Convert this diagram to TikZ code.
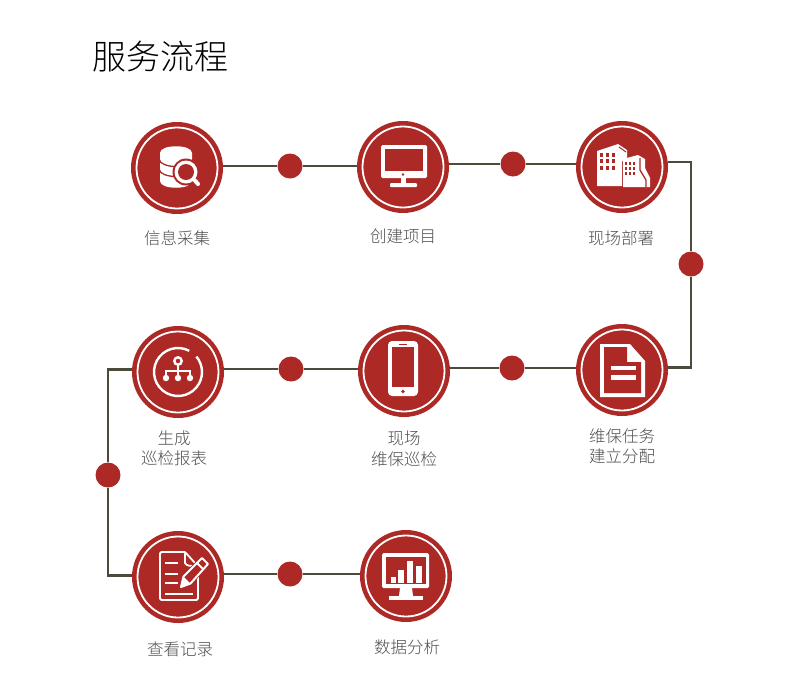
\documentclass[tikz,border=0pt]{standalone}
\usepackage{fontspec}
\setmainfont[UprightFont=* Light]{Noto Sans CJK SC}
\usetikzlibrary{positioning}
\definecolor{seal}{rgb}{0.68,0.16,0.15}
\definecolor{wire}{rgb}{0.30,0.29,0.22}
\definecolor{caption}{rgb}{0.30,0.30,0.30}

\begin{document}
\begin{tikzpicture}
    [x=1pt, y=-1pt,
    stage/.style={circle, fill=seal, minimum size=92pt, inner sep=0pt},
    dot/.style={circle, fill=seal, minimum size=25pt, inner sep=0pt},
    caption/.style={text=caption, font=\fontsize{16.5pt}{20.5pt}\selectfont, align=center},
    link/.style={wire, line width=2.3pt},
    ringline/.style={white, line width=1.8pt},
    glyph/.style={fill=white, draw=none},
    hole/.style={fill=seal, draw=none},
    stroke/.style={white, line width=2.4pt}]
     \useasboundingbox (0,0) rectangle (800,689);
     \node[font=\fontsize{34pt}{36pt}\selectfont] (title) at (160, 57) {服务流程};
     \node[stage] (info)   at (177, 168) {};
     \node[stage] (create) at (403, 167) {};
     \node[stage] (site)   at (622, 167) {};
     \node[stage] (task)   at (622, 370) {};
     \node[stage] (patrol) at (404, 371) {};
     \node[stage] (report) at (178, 372) {};
     \node[stage] (record) at (178, 577) {};
     \node[stage] (chart)  at (406, 576) {};
     \node[dot] (d1) at (290, 166) {};
     \node[dot] (d2) at (513, 164) {};
     \node[dot] (d3) at (691, 264) {};
     \node[dot] (d4) at (512, 368) {};
     \node[dot] (d5) at (291, 369) {};
     \node[dot] (d6) at (108, 475) {};
     \node[dot] (d7) at (290, 574) {};
     \node[caption] (l1) at (177, 238) {信息采集};
     \node[caption] (l2) at (403, 236) {创建项目};
     \node[caption] (l3) at (621, 238) {现场部署};
     \node[caption] (l4) at (622, 446) {维保任务\\建立分配};
     \node[caption] (l5) at (404, 449) {现场\\维保巡检};
     \node[caption] (l6) at (174, 448) {生成\\巡检报表};
     \node[caption] (l7) at (180, 649) {查看记录};
     \node[caption] (l8) at (407, 647) {数据分析};
     \draw[link] (d1 -| info.east) -- (d1);
     \draw[link] (d1) -- (d1 -| create.west);
     \draw[link] (d2 -| create.east) -- (d2);
     \draw[link] (d2) -- (d2 -| site.west);
     \draw[link] (site.6) -| (d3);
     \draw[link] (d3) |- (task.3);
     \draw[link] (d4 -| task.west) -- (d4);
     \draw[link] (d4) -- (d4 -| patrol.east);
     \draw[link] (d5 -| patrol.west) -- (d5);
     \draw[link] (d5) -- (d5 -| report.east);
     \draw[link] (report.177) -| (d6);
     \draw[link] (d6) |- (record.178);
     \draw[link] (d7 -| record.east) -- (d7);
     \draw[link] (d7) -- (d7 -| chart.west);
     \foreach \n in {info,create,site,task,patrol,report,record,chart}
        \draw[ringline] (\n) circle[radius=40.5pt];
     % database
     \begin{scope}[shift={(info)}]
        \fill[glyph] (-17,-15) -- (-17,13) .. controls (-17,22) and (15,22) .. (15,13) -- (15,-15)
            .. controls (15,-24) and (-17,-24) .. (-17,-15) -- cycle;
        \draw[seal, line width=1.3pt] (-18,-9) .. controls (-17,1) and (15,1) .. (16,-9);
        \draw[seal, line width=1.3pt] (-18,1) .. controls (-17,11) and (15,11) .. (16,1);
        \fill[seal] (9,4) circle[radius=13.5pt];
        \fill[glyph] (9,4) circle[radius=11.5pt];
        \fill[hole] (9,4) circle[radius=8pt];
        \draw[white, line width=4pt, line cap=round] (17.5,12) -- (21,16);
     \end{scope}
     % monitor
     \begin{scope}[shift={(create)}]
        \fill[glyph, rounded corners=1.5pt] (-22,-22) rectangle (24,11);
        \fill[hole] (-18,-18) rectangle (20,4);
        \fill[hole] (0,7.5) circle[radius=1.3pt];
        \fill[glyph] (-2,11) rectangle (3,17);
        \fill[glyph, rounded corners=1pt] (-13,16) rectangle (14,20);
     \end{scope}
     % buildings
     \begin{scope}[shift={(site)}]
        \fill[glyph] (-25,-16) -- (-4,-23) -- (5,-17) -- (5,-6) -- (0,-6) -- (0,19) -- (-25,19) -- cycle;
        \draw[seal, line width=1pt] (-3,-20) -- (4,-15);
        \foreach \c in {-21,-15,-9}
           \foreach \r in {-12,-6,1}
              \fill[hole] (\c-1.5,\r-2) rectangle (\c+1.5,\r+2);
        \fill[glyph] (1,-8) -- (16,-12) -- (23,-8) -- (23,1) -- (28,11) -- (28,20) -- (1,20) -- cycle;
        \draw[seal, line width=1.3pt] (18,-9) -- (18,3) -- (24,13) -- (24,20);
        \foreach \c in {4,8,12}
           \foreach \r in {-4,1,6}
              \fill[hole] (\c-1.4,\r-1.5) rectangle (\c+1.4,\r+1.5);
     \end{scope}
     % document
     \begin{scope}[shift={(task)}]
        \fill[glyph] (-22,-26) -- (8,-26) -- (23,-9) -- (23,27) -- (-22,27) -- cycle;
        \fill[hole] (-18,-23) -- (5,-23) -- (5,-8) -- (19,-8) -- (19,23) -- (-18,23) -- cycle;
        \fill[glyph] (-11,-4) rectangle (14,0);
        \fill[glyph] (-11,5) rectangle (14,10);
     \end{scope}
     % phone
     \begin{scope}[shift={(patrol)}]
        \fill[glyph, rounded corners=4pt] (-16,-30) rectangle (14,25);
        \fill[hole] (-12,-24) rectangle (10,16);
        \fill[hole] (-5,-27.5) rectangle (3,-26.5);
        \fill[hole] (-1,20.5) circle[radius=1.8pt];
     \end{scope}
     % hierarchy inside a ring
     \begin{scope}[shift={(report)}]
        \draw[stroke] (-62:24) arc[start angle=-62, end angle=-400, radius=24];
        \draw[stroke] (0,-11) circle[radius=3.7pt];
        \draw[white, line width=1.5pt] (0,-7) -- (0,6);
        \draw[white, line width=1.5pt] (-12,6) -- (-12,-1) -- (12,-1) -- (12,6);
        \foreach \c in {-12,0,12}
           \fill[glyph] (\c,6) circle[radius=3.2pt];
     \end{scope}
     % record and pencil
     \begin{scope}[shift={(record)}]
        \draw[stroke, line width=1.8pt, rounded corners=1.5pt] (7,-25) -- (-18,-25) -- (-18,23) -- (20,23) -- (20,-4);
        \draw[stroke, line width=1.8pt] (7,-25) -- (7,-14) .. controls (9,-11) and (12,-11) .. (15,-11);
        \draw[stroke, line width=1.8pt] (7,-25) -- (17,-14);
        \foreach \r in {-14,-3,6}
           \draw[stroke] (-13,\r) -- (0,\r);
        \draw[stroke] (-13,17) -- (15,17);
        \filldraw[fill=seal, draw=seal, line width=3.5pt, line join=round] (5.5,-0.5) -- (24,-19) -- (30,-13) -- (12.5,6.5) -- (3,10) -- cycle;
        \filldraw[fill=seal, draw=white, line width=2pt, line join=round] (5.5,-0.5) -- (24,-19) -- (30,-13) -- (12.5,6.5) -- (3,10) -- cycle;
        \fill[glyph] (3,10) -- (5.5,-0.5) -- (12.5,6.5) -- cycle;
        \draw[white, line width=2pt] (19,-14) -- (25,-8);
     \end{scope}
     % bar chart on a screen
     \begin{scope}[shift={(chart)}]
        \fill[glyph, rounded corners=1.5pt] (-24,-23) rectangle (23,12);
        \fill[hole] (-20,-19) rectangle (20,8);
        \fill[glyph] (-15,1) rectangle (-10,7);
        \fill[glyph] (-7.7,-6) rectangle (-1.7,7);
        \fill[glyph] (1.3,-15) rectangle (7.3,7);
        \fill[glyph] (10,-10) rectangle (16,7);
        \fill[glyph] (-6,12) -- (6,12) -- (7,20) -- (-7,20) -- cycle;
        \fill[glyph] (-17,20) rectangle (17,24);
     \end{scope}
\end{tikzpicture}
\end{document}
